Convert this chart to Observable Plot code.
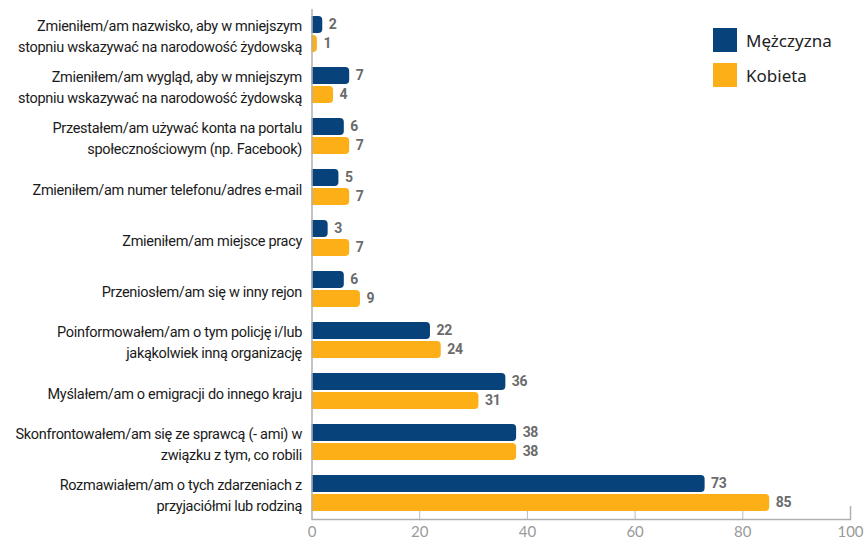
<!DOCTYPE html>
<html>
<head>
<meta charset="utf-8">
<script src="https://cdn.jsdelivr.net/npm/d3@7"></script>
<script src="https://cdn.jsdelivr.net/npm/@observablehq/plot@0.6"></script>
<style>
  body { margin: 0; background: #fff; }
  #wrap { position: relative; width: 864px; height: 540px; overflow: hidden; }
  #legend { position: absolute; left: 713px; top: 28px; font-family: "Noto Sans", sans-serif; font-size: 17px; color: #222; }
  .item { display: flex; align-items: center; height: 24px; margin-bottom: 11px; }
  .sw { width: 24px; height: 24px; margin-right: 9px; }
</style>
</head>
<body>
<div id="wrap"><div id="legend"></div></div>
<script>
const categories = [
  "Zmieniłem/am nazwisko, aby w mniejszym\nstopniu wskazywać na narodowość żydowską",
  "Zmieniłem/am wygląd, aby w mniejszym\nstopniu wskazywać na narodowość żydowską",
  "Przestałem/am używać konta na portalu\nspołecznościowym (np. Facebook)",
  "Zmieniłem/am numer telefonu/adres e-mail",
  "Zmieniłem/am miejsce pracy",
  "Przeniosłem/am się w inny rejon",
  "Poinformowałem/am o tym policję i/lub\njakąkolwiek inną organizację",
  "Myślałem/am o emigracji do innego kraju",
  "Skonfrontowałem/am się ze sprawcą (- ami) w\nzwiązku z tym, co robili",
  "Rozmawiałem/am o tych zdarzeniach z\nprzyjaciółmi lub rodziną"
];
const series = ["Mężczyzna", "Kobieta"];
const male = [2, 7, 6, 5, 3, 6, 22, 36, 38, 73];
const female = [1, 4, 7, 7, 7, 9, 24, 31, 38, 85];
const xTicks = [0, 20, 40, 60, 80, 100];
const colors = ["#07427a", "#fdaf17"];

const data = [];
categories.forEach((c, i) => {
  data.push({category: c, series: series[0], value: male[i]});
  data.push({category: c, series: series[1], value: female[i]});
});

const labelFont = "Roboto";

const chart = Plot.plot({
  width: 864,
  height: 540,
  marginLeft: 311.5,
  marginRight: 14,
  marginTop: 7,
  marginBottom: 20,
  x: {domain: [0, 100], axis: null},
  fy: {domain: categories, padding: 0, axis: null},
  y: {domain: series, paddingInner: 0.085, paddingOuter: 0.33, axis: null},
  color: {domain: series, range: colors},
  style: {background: "white", overflow: "visible"},
  marks: [
    Plot.barX(data, {fy: "category", y: "series", x: "value", fill: "series", rx: 4, insetLeft: -5, clip: "frame"}),
    Plot.ruleX([0], {stroke: "#b0b0b0", strokeWidth: 1.5}),
    Plot.frame({anchor: "bottom", facetAnchor: "bottom", stroke: "#b0b0b0", strokeWidth: 1.5}),
    Plot.ruleX(xTicks.slice(1, -1), {x: d => d, facetAnchor: "bottom", insetTop: 43, stroke: "#bbb"}),
    Plot.ruleX([100], {x: d => d, facetAnchor: "bottom", insetTop: 38, stroke: "#b0b0b0", strokeWidth: 1.5}),
    Plot.axisX(xTicks, {anchor: "bottom", tickSize: 0, tickPadding: 7, label: null, fontSize: 15, fill: "#9a9a9a", fontFamily: "Lato"}),
    Plot.text(data, {fy: "category", y: "series", x: "value", text: "value", dx: 6, textAnchor: "start",
      fill: "#6b6b6b", fontWeight: "bold", fontSize: 14, fontFamily: labelFont}),
    Plot.text(categories, {fy: d => d, text: d => d, frameAnchor: "left", lineHeight: 1.4,
      textAnchor: "end", dx: -10, fill: "#1a1a1a", fontSize: 14.5, fontFamily: labelFont})
  ]
});
document.getElementById("wrap").prepend(chart);
const textGroups = chart.querySelectorAll('g[aria-label="text"]');
textGroups[textGroups.length - 1].setAttribute("letter-spacing", "-0.3");
textGroups[0].setAttribute("letter-spacing", "-0.3");

const legend = document.getElementById("legend");
series.forEach((s, i) => {
  const it = document.createElement("div");
  it.className = "item";
  const sw = document.createElement("div");
  sw.className = "sw";
  sw.style.background = colors[i];
  const t = document.createElement("span");
  t.textContent = s;
  it.append(sw, t);
  legend.append(it);
});
</script>
</body>
</html>
